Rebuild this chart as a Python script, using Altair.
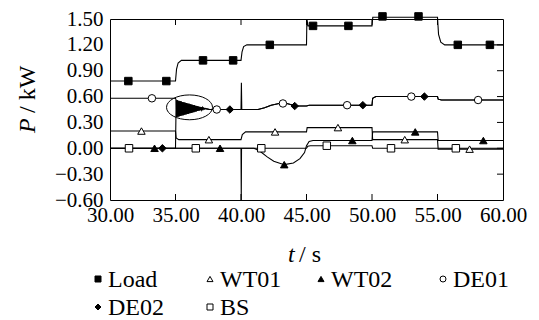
import altair as alt
import pandas as pd

# ---------------- data ----------------
series_names = ["Load", "WT01", "WT02", "DE01", "DE02", "BS"]
series_shapes = ["square", "triangle-up", "triangle-up", "circle", "diamond", "square"]
series_fills = ["black", "white", "black", "white", "black", "white"]

load_t = [30, 35.0, 35.08, 35.2, 35.45, 40.0, 40.08, 40.2, 40.45, 45.0, 45.03, 45.12, 50.0, 50.06, 55.0, 55.08, 55.25, 55.55, 60]
load_P = [0.78, 0.78, 0.92, 0.99, 1.02, 1.02, 1.12, 1.18, 1.20, 1.20, 1.50, 1.42, 1.42, 1.52, 1.52, 1.32, 1.23, 1.20, 1.20]

wt01_t = [30, 35.0, 35.05, 35.25, 40.0, 40.1, 40.35, 45.0, 45.05, 50.0, 50.05, 55.0, 55.05, 60]
wt01_P = [0.20, 0.20, 0.12, 0.10, 0.10, 0.16, 0.19, 0.19, 0.24, 0.24, 0.10, 0.10, -0.01, -0.01]

wt02_t = [30, 40.0, 41.0, 41.5, 42.0, 42.5, 43.3, 44.0, 44.5, 44.85, 45.0, 45.2, 45.5, 50.0, 50.05, 55.0, 55.05, 60]
wt02_P = [0.0, 0.0, 0.0, -0.04, -0.10, -0.15, -0.19, -0.17, -0.12, -0.05, 0.03, 0.08, 0.09, 0.09, 0.19, 0.19, 0.09, 0.09]

bs_t = [30, 40.0, 40.02, 40.04, 45.0, 45.1, 45.3, 50.0, 50.05, 60]
bs_P = [0.0, 0.0, -0.60, 0.0, 0.0, 0.025, 0.03, 0.03, 0.0, 0.0]

# damped oscillation of the two diesel units after 35 s
osc_t = [35.05, 35.10, 35.15, 35.20, 35.25, 35.30, 35.35, 35.40, 35.45, 35.50,
         35.55, 35.60, 35.65, 35.70, 35.75, 35.80, 35.85, 35.90, 35.95, 36.00,
         36.05, 36.10, 36.15, 36.20, 36.25, 36.30, 36.35, 36.40, 36.45, 36.50,
         36.55, 36.60, 36.65, 36.70, 36.75, 36.80, 36.85, 36.90, 36.95, 37.00,
         37.05, 37.10, 37.15, 37.20, 37.25, 37.30]
osc_P = [0.560, 0.362, 0.556, 0.367, 0.551, 0.371, 0.547, 0.376, 0.542, 0.380,
         0.538, 0.384, 0.533, 0.389, 0.529, 0.393, 0.524, 0.398, 0.520, 0.402,
         0.516, 0.407, 0.511, 0.411, 0.507, 0.416, 0.502, 0.420, 0.498, 0.424,
         0.493, 0.429, 0.489, 0.433, 0.484, 0.438, 0.480, 0.442, 0.476, 0.447,
         0.471, 0.451, 0.467, 0.456, 0.462, 0.460]

de01_head_t = [30, 35.0]
de01_head_P = [0.58, 0.58]
de01_tail_t = [37.6, 38.0, 40.0, 40.03, 40.06, 41.3, 41.8, 42.3, 42.9, 43.5, 44.2, 45.0, 45.2, 50.0, 50.05, 50.3, 55.0, 55.05, 55.3, 60]
de01_tail_P = [0.45, 0.45, 0.45, 0.76, 0.45, 0.45, 0.47, 0.50, 0.52, 0.52, 0.49, 0.49, 0.50, 0.50, 0.58, 0.60, 0.60, 0.57, 0.56, 0.56]

de02_head_t = [30, 35.0]
de02_head_P = [0.0, 0.0]
de02_tail_t = [37.6, 38.0, 40.0, 41.3, 41.8, 42.3, 42.9, 43.5, 44.2, 45.0, 45.2, 50.0, 50.05, 50.3, 55.0, 55.05, 55.3, 60]
de02_tail_P = [0.45, 0.45, 0.45, 0.45, 0.47, 0.50, 0.52, 0.52, 0.49, 0.49, 0.50, 0.50, 0.58, 0.60, 0.60, 0.57, 0.56, 0.56]

# markers
load_mt = [31.4, 34.3, 37.1, 39.4, 42.2, 45.5, 48.2, 50.8, 53.55, 56.55, 59.0]
load_mP = [0.78, 0.78, 1.02, 1.02, 1.20, 1.42, 1.42, 1.53, 1.53, 1.20, 1.20]
wt01_mt = [32.4, 37.55, 42.6, 47.4, 52.5, 57.45]
wt01_mP = [0.20, 0.10, 0.19, 0.24, 0.10, -0.01]
wt02_mt = [33.4, 38.4, 43.3, 48.5, 53.3, 58.5]
wt02_mP = [0.0, 0.0, -0.19, 0.09, 0.19, 0.09]
de01_mt = [33.2, 38.15, 43.2, 48.1, 53.0, 58.1]
de01_mP = [0.58, 0.45, 0.52, 0.50, 0.60, 0.56]
de02_mt = [34.0, 39.15, 44.1, 49.3, 54.0]
de02_mP = [0.0, 0.45, 0.49, 0.50, 0.60]
bs_mt = [31.45, 36.55, 41.55, 46.55, 51.45, 56.4]
bs_mP = [0.0, 0.0, 0.0, 0.03, 0.0, 0.0]

# annotation ellipse around the oscillation
ellipse_t = [36.07]
ellipse_P = [0.475]

x_ticks = [30, 35, 40, 45, 50, 55, 60]
x_inner_ticks = [35, 40, 45, 50, 55]
y_ticks = [-0.6, -0.3, 0.0, 0.3, 0.6, 0.9, 1.2, 1.5]
y_inner_ticks = [-0.3, 0.0, 0.3, 0.6, 0.9, 1.2]

# ---------------- build tables ----------------
line_rows = []
def add_line(name, ts, ps):
    for i, (t, p) in enumerate(zip(ts, ps)):
        line_rows.append({"series": name, "t": t, "P": p, "i": i})

add_line("Load", load_t, load_P)
add_line("WT01", wt01_t, wt01_P)
add_line("WT02", wt02_t, wt02_P)
add_line("DE01", de01_head_t + osc_t + de01_tail_t, de01_head_P + osc_P + de01_tail_P)
add_line("DE02", de02_head_t + osc_t + de02_tail_t, de02_head_P + osc_P + de02_tail_P)
add_line("BS", bs_t, bs_P)
line_df = pd.DataFrame(line_rows)

mk_rows = []
for name, ts, ps in [("Load", load_mt, load_mP), ("WT01", wt01_mt, wt01_mP),
                     ("WT02", wt02_mt, wt02_mP), ("DE01", de01_mt, de01_mP),
                     ("DE02", de02_mt, de02_mP), ("BS", bs_mt, bs_mP)]:
    for t, p in zip(ts, ps):
        mk_rows.append({"series": name, "t": t, "P": p})
mk_df = pd.DataFrame(mk_rows)

ell_df = pd.DataFrame({"t": ellipse_t, "P": ellipse_P})
xt_df = pd.DataFrame({"t": x_inner_ticks})
yt_df = pd.DataFrame({"P": y_inner_ticks})

W, H = 393, 181
FONT = "Liberation Serif, Times New Roman, Times, DejaVu Serif, serif"

x_scale = alt.Scale(domain=[30, 60], nice=False, zero=False)
y_scale = alt.Scale(domain=[-0.6, 1.5], nice=False, zero=False)
x_axis = alt.Axis(values=x_ticks, format=".2f", ticks=False, domain=False, grid=False,
                  labelFont=FONT, labelFontSize=21, labelColor="black", labelPadding=4,
                  title=None, labelFlush=False)
y_axis = alt.Axis(values=y_ticks, format=".2f", ticks=False, domain=False, grid=False,
                  labelFont=FONT, labelFontSize=21, labelColor="black", labelPadding=7,
                  title=None)

X = alt.X("t:Q", scale=x_scale, axis=x_axis)
Y = alt.Y("P:Q", scale=y_scale, axis=y_axis)

lines = alt.Chart(line_df).mark_line(color="black", strokeWidth=1.1).encode(
    x=X, y=Y, detail="series:N", order="i:Q")

ellipse_path = "M-1,0A1,0.54,0,1,0,1,0A1,0.54,0,1,0,-1,0Z"
ell = alt.Chart(ell_df).mark_point(shape=ellipse_path, size=2116, stroke="black",
                                   strokeWidth=1, filled=False, opacity=1).encode(x=X, y=Y)

points = alt.Chart(mk_df).mark_point(filled=True, stroke="black", strokeWidth=1,
                                     size=56, opacity=1).encode(
    x=X, y=Y,
    shape=alt.Shape("series:N", scale=alt.Scale(domain=series_names, range=series_shapes), legend=None),
    fill=alt.Fill("series:N", scale=alt.Scale(domain=series_names, range=series_fills), legend=None),
)

tick_bottom = alt.Chart(xt_df).mark_rule(color="black", strokeWidth=1).encode(
    x=X, y=alt.value(H), y2=alt.value(H - 6))
tick_top = alt.Chart(xt_df).mark_rule(color="black", strokeWidth=1).encode(
    x=X, y=alt.value(0), y2=alt.value(6))
tick_right = alt.Chart(yt_df).mark_rule(color="black", strokeWidth=1).encode(
    y=Y, x=alt.value(W), x2=alt.value(W - 6))

one = pd.DataFrame({"d": [0]})

def txt(text, x, y, italic=False, angle=0, size=24):
    kw = dict(text=text, font=FONT, fontSize=size, align="left",
              baseline="alphabetic", color="black")
    if italic:
        kw["fontStyle"] = "italic"
    if angle:
        kw["angle"] = angle
    return alt.Chart(one).mark_text(**kw).encode(x=alt.value(x), y=alt.value(y))

titles = [
    txt("t", 178, 243, italic=True),
    txt("/ s", 189, 243),
    txt("P", -75, 114, italic=True, angle=270),
    txt("/ kW", -75, 94, angle=270),
]

# manual legend: 4 columns, 2 rows
leg_col_x = [-12, 100, 211, 333]
leg_row_y = [260, 288]
legend_layers = []
for k, name in enumerate(series_names):
    cx = leg_col_x[k % 4]
    cy = leg_row_y[k // 4]
    legend_layers.append(
        alt.Chart(one).mark_point(shape=series_shapes[k], fill=series_fills[k], filled=True,
                                  stroke="black", strokeWidth=1, size=36, opacity=1).encode(
            x=alt.value(cx), y=alt.value(cy)))
    legend_layers.append(txt(name, cx + 10, cy + 8))

chart = alt.layer(lines, ell, points, tick_bottom, tick_top, tick_right,
                  *titles, *legend_layers).properties(
    width=W, height=H,
    padding={"left": 102, "top": 11, "right": 28, "bottom": 120},
    autosize=alt.AutoSizeParams(type="none"),
    background="white",
).configure_view(stroke="black", strokeWidth=1)

chart.save("out.html", embed_options={"renderer": "svg", "actions": False})
